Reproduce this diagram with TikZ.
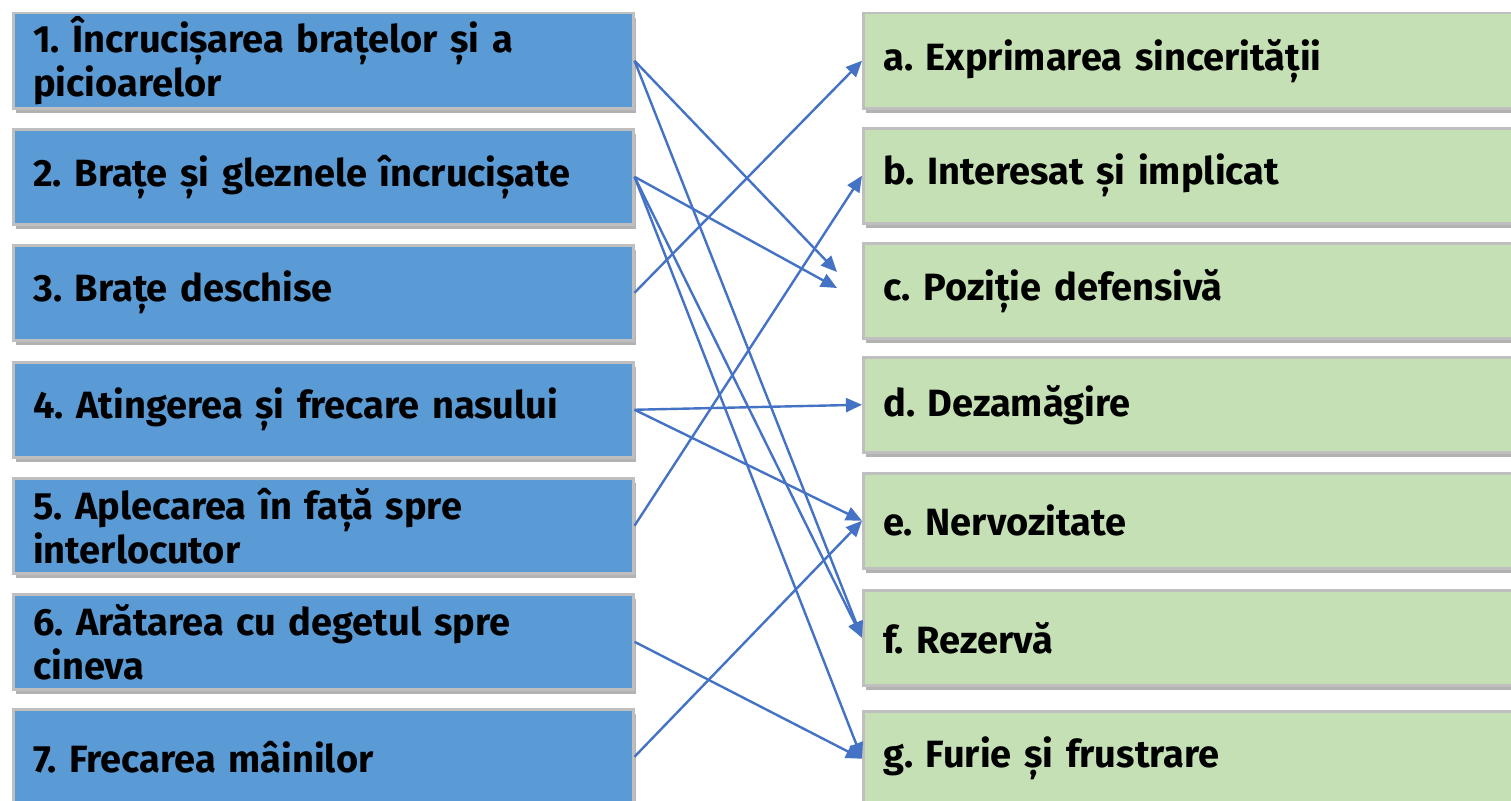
\documentclass[tikz,border=0pt]{standalone}
\usepackage{fontspec}
\setmainfont{Fira Sans}
\usetikzlibrary{arrows.meta,shadows}
\definecolor{leftfill}{HTML}{5B9BD5}
\definecolor{rightfill}{HTML}{C5E0B4}
\definecolor{boxline}{HTML}{BFBFBF}
\definecolor{link}{HTML}{4472C4}
\frenchspacing
\begin{document}
\begin{tikzpicture}[x=1pt,y=-1pt,
  box/.style={draw=boxline, line width=2.5pt, minimum height=95pt,
    inner xsep=20pt, inner ysep=0pt, anchor=north west, align=left,
    font=\fontsize{38}{44}\selectfont\bfseries,
    drop shadow={shadow xshift=3pt, shadow yshift=-5pt, fill=black, opacity=0.3}},
  lbox/.style={box, fill=leftfill, text width=580pt},
  rbox/.style={box, fill=rightfill, text width=660pt},
  link/.style={draw=link, line width=2.4pt, -{Triangle[length=16pt,width=14pt]}}]
\useasboundingbox (0,0) rectangle (1511,800);
\clip (0,0) rectangle (1511,800);
% left column: gestures
\node[lbox] (l1) at (12,12)  {1. Încrucișarea brațelor și a\\picioarelor};
\node[lbox] (l2) at (12,128) {2. Brațe și gleznele încrucișate};
\node[lbox] (l3) at (12,244) {3. Brațe deschise};
\node[lbox] (l4) at (12,361) {4. Atingerea și frecare nasului};
\node[lbox] (l5) at (12,477) {5. Aplecarea în față spre\\interlocutor};
\node[lbox] (l6) at (12,593) {6. Arătarea cu degetul spre\\cineva};
\node[lbox] (l7) at (12,708) {7. Frecarea mâinilor};
% right column: meanings
\node[rbox] (ra) at (862,12)  {a. Exprimarea sincerității};
\node[rbox] (rb) at (862,127) {b. Interesat și implicat};
\node[rbox] (rc) at (862,242) {c. Poziție defensivă};
\node[rbox] (rd) at (862,356) {d. Dezamăgire};
\node[rbox] (re) at (862,472) {e. Nervozitate};
\node[rbox] (rf) at (862,589) {f. Rezervă};
\node[rbox] (rg) at (862,710) {g. Furie și frustrare};
% free ends of the two arrows that stop short of box c
\coordinate (c1) at (837,272);
\coordinate (c2) at (837,288);
% connectors
\draw[link] (l1.east) -- (c1);
\draw[link] (l1.east) -- (rf.west);
\draw[link] (l2.east) -- (c2);
\draw[link] (l2.east) -- (rf.west);
\draw[link] (l2.east) -- (rg.west);
\draw[link] (l3.east) -- (ra.west);
\draw[link] (l4.east) -- (rd.west);
\draw[link] (l4.east) -- (re.west);
\draw[link] (l5.east) -- (rb.west);
\draw[link] (l6.east) -- (rg.west);
\draw[link] (l7.east) -- (re.west);
\end{tikzpicture}
\end{document}
